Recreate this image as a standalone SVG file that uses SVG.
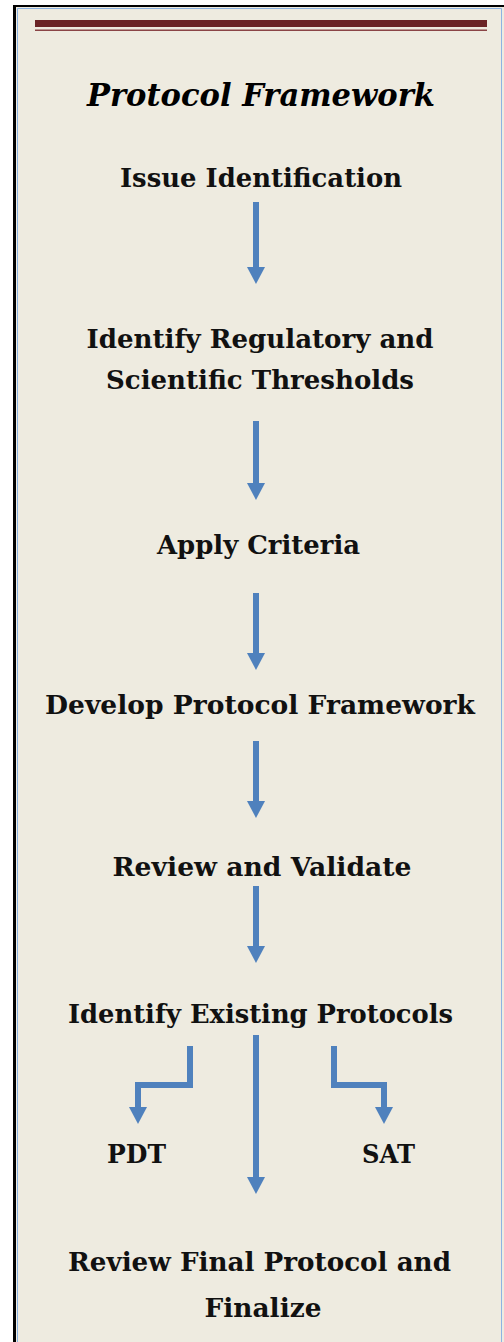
<svg xmlns="http://www.w3.org/2000/svg" width="504" height="1342" viewBox="0 0 504 1342">
  <style>
    .lbl { font-family: "DejaVu Serif", "Liberation Serif", serif; font-weight: bold; font-size: 26px; fill: #111; text-anchor: middle; }
    .title { font-family: "DejaVu Serif", "Liberation Serif", serif; font-weight: bold; font-style: italic; font-size: 31px; fill: #000; text-anchor: middle; }
    .conn { fill: none; stroke: #4F81BD; stroke-width: 6; stroke-linejoin: miter; marker-end: url(#ah); }
  </style>
  <defs>
    <marker id="ah" viewBox="0 0 17 18" refX="0" refY="9" markerWidth="17" markerHeight="18" markerUnits="userSpaceOnUse" orient="auto">
      <path d="M0,0 L17,9 L0,18 z" fill="#4F81BD"/>
    </marker>
  </defs>
  <!-- frame -->
  <rect x="16" y="7" width="488" height="1335" fill="#EEEBE0"/>
  <line x1="14.5" y1="5" x2="14.5" y2="1342" stroke="#000" stroke-width="3"/>
  <line x1="13" y1="6" x2="504" y2="6" stroke="#000" stroke-width="2"/>
  <path d="M17.5,1342 V8.5 H501.5 V1342" fill="none" stroke="#8DB3E2" stroke-width="1"/>
  <rect x="35" y="20" width="452" height="7" fill="#6B2426"/>
  <rect x="35" y="29.5" width="452" height="1.5" fill="#8A4446"/>

  <g id="title"><text class="title" x="261" y="106" textLength="348" lengthAdjust="spacingAndGlyphs">Protocol Framework</text></g>
  <g id="n1"><text class="lbl" x="261" y="187" textLength="282" lengthAdjust="spacingAndGlyphs">Issue Identification</text></g>
  <g id="n2">
    <text class="lbl" x="260" y="348" textLength="347" lengthAdjust="spacingAndGlyphs">Identify Regulatory and</text>
    <text class="lbl" x="260" y="389" textLength="308" lengthAdjust="spacingAndGlyphs">Scientific Thresholds</text>
  </g>
  <g id="n3"><text class="lbl" x="258.5" y="554" textLength="203" lengthAdjust="spacingAndGlyphs">Apply Criteria</text></g>
  <g id="n4"><text class="lbl" x="260" y="714" textLength="430" lengthAdjust="spacingAndGlyphs">Develop Protocol Framework</text></g>
  <g id="n5"><text class="lbl" x="262" y="876" textLength="299" lengthAdjust="spacingAndGlyphs">Review and Validate</text></g>
  <g id="n6"><text class="lbl" x="260.5" y="1023" textLength="385" lengthAdjust="spacingAndGlyphs">Identify Existing Protocols</text></g>
  <g id="n7"><text class="lbl" x="136.5" y="1163" textLength="59" lengthAdjust="spacingAndGlyphs">PDT</text></g>
  <g id="n8"><text class="lbl" x="388.5" y="1163" textLength="53" lengthAdjust="spacingAndGlyphs">SAT</text></g>
  <g id="n9">
    <text class="lbl" x="259.5" y="1271" textLength="383" lengthAdjust="spacingAndGlyphs">Review Final Protocol and</text>
    <text class="lbl" x="263" y="1317" textLength="117" lengthAdjust="spacingAndGlyphs">Finalize</text>
  </g>

  <g id="connectors">
    <path class="conn" d="M256,202 V267"/>
    <path class="conn" d="M256,421 V483"/>
    <path class="conn" d="M256,593 V653"/>
    <path class="conn" d="M256,741 V801"/>
    <path class="conn" d="M256,886 V946"/>
    <path class="conn" d="M256,1035 V1177"/>
    <path class="conn" d="M190,1046 V1085 H138 V1107"/>
    <path class="conn" d="M334,1046 V1085 H384 V1107"/>
  </g>
</svg>
